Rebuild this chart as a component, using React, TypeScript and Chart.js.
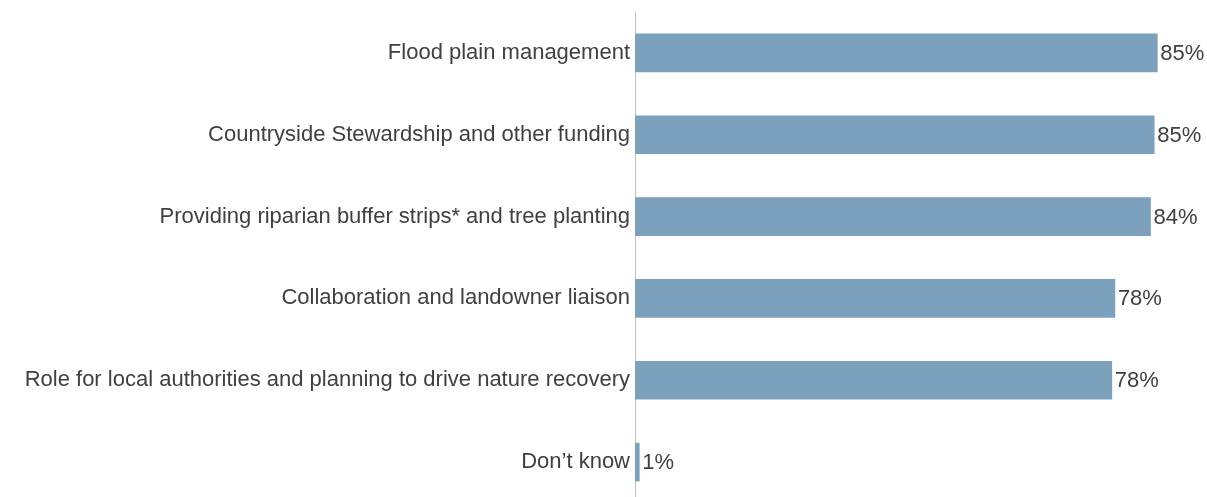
import React, { useEffect, useRef } from "react";
import { Chart, registerables } from "chart.js";

Chart.register(...registerables);

const categories = [
  "Flood plain management",
  "Countryside Stewardship and other funding",
  "Providing riparian buffer strips* and tree planting",
  "Collaboration and landowner liaison",
  "Role for local authorities and planning to drive nature recovery",
  "Don\u2019t know",
];
const values = [85, 84.5, 83.9, 78.1, 77.6, 0.7];
const valueLabels = ["85%", "85%", "84%", "78%", "78%", "1%"];

const TEXT_COLOR = "#404040";
const FONT_FAMILY = "'Liberation Sans', Arial, sans-serif";
const FONT_SIZE = 22;

const valueLabelPlugin = {
  id: "valueLabels",
  afterDatasetsDraw(chart: any) {
    const ctx = chart.ctx;
    const meta = chart.getDatasetMeta(0);
    ctx.save();
    ctx.font = `${FONT_SIZE}px ${FONT_FAMILY}`;
    ctx.fillStyle = TEXT_COLOR;
    ctx.textAlign = "left";
    ctx.textBaseline = "middle";
    meta.data.forEach((bar: any, i: number) => {
      ctx.fillText(valueLabels[i], bar.x + 3, bar.y + 1);
    });
    ctx.restore();
  },
};

export default function App() {
  const canvasRef = useRef<HTMLCanvasElement | null>(null);

  useEffect(() => {
    if (!canvasRef.current) return;
    const chart = new Chart(canvasRef.current, {
      type: "bar",
      data: {
        labels: categories,
        datasets: [
          {
            data: values,
            backgroundColor: "#7ba1bd",
            borderWidth: 0,
            barThickness: 38,
          },
        ],
      },
      options: {
        indexAxis: "y",
        animation: false,
        responsive: true,
        maintainAspectRatio: false,
        layout: { padding: { top: 12, bottom: 3, right: 19, left: 0 } },
        plugins: {
          legend: { display: false },
          tooltip: { enabled: false },
        },
        scales: {
          x: {
            display: false,
            min: 0,
            max: 90,
          },
          y: {
            grid: { display: false, drawTicks: false },
            border: { display: true, color: "#bfbfbf", width: 1 },
            ticks: {
              color: TEXT_COLOR,
              font: { size: FONT_SIZE, family: FONT_FAMILY },
              padding: 5,
            },
            afterFit(scale: any) {
              scale.width = 635;
              scale.paddingTop = 0;
              scale.paddingBottom = 0;
            },
          },
        },
      },
      plugins: [valueLabelPlugin],
    });
    return () => chart.destroy();
  }, []);

  return (
    <div
      style={{
        position: "fixed",
        left: 0,
        top: 0,
        width: 1207,
        height: 497,
        overflow: "hidden",
        background: "#ffffff",
      }}
    >
      <div style={{ position: "relative", width: 1207, height: 506 }}>
        <canvas ref={canvasRef} />
      </div>
    </div>
  );
}
